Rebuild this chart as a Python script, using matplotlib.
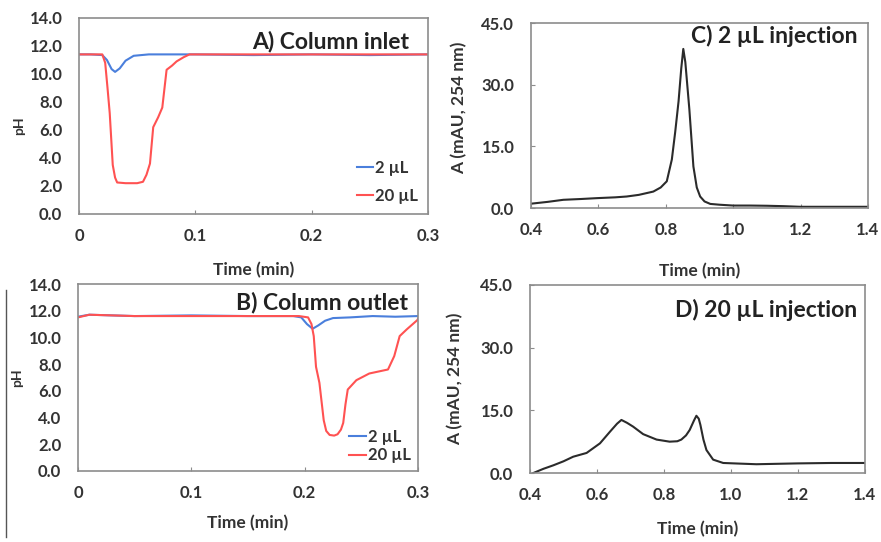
import matplotlib
matplotlib.use("Agg")
import matplotlib.pyplot as plt
from matplotlib.lines import Line2D

plt.rcParams['font.family'] = ['Lato', 'DejaVu Sans']
plt.rcParams['font.weight'] = 'bold'

# A) column inlet pH
inlet_t_2 = [0.0, 0.010, 0.020, 0.024, 0.028, 0.031, 0.035, 0.040, 0.047, 0.060, 0.100, 0.150, 0.200, 0.250, 0.300]
inlet_ph_2 = [11.4, 11.4, 11.35, 11.0, 10.35, 10.15, 10.4, 10.95, 11.3, 11.4, 11.4, 11.35, 11.4, 11.35, 11.4]
inlet_t_20 = [0.0, 0.010, 0.020, 0.0225, 0.0245, 0.0264, 0.029, 0.031, 0.0328, 0.040, 0.050, 0.055, 0.058, 0.061,
              0.0638, 0.068, 0.0716, 0.0753, 0.0800, 0.0839, 0.090, 0.095, 0.150, 0.200, 0.250, 0.300]
inlet_ph_20 = [11.4, 11.4, 11.4, 10.8, 9.0, 7.2, 3.5, 2.6, 2.25, 2.2, 2.2, 2.3, 2.8, 3.6,
               6.2, 6.9, 7.6, 10.3, 10.6, 10.9, 11.2, 11.4, 11.4, 11.4, 11.4, 11.4]

# B) column outlet pH
outlet_t_2 = [0.0, 0.010, 0.050, 0.100, 0.150, 0.190, 0.197, 0.202, 0.207, 0.212, 0.218, 0.225, 0.240, 0.260, 0.280, 0.300]
outlet_ph_2 = [11.55, 11.7, 11.6, 11.65, 11.6, 11.6, 11.5, 11.0, 10.65, 10.9, 11.25, 11.45, 11.5, 11.6, 11.55, 11.6]
outlet_t_20 = [0.0, 0.010, 0.050, 0.100, 0.150, 0.195, 0.203, 0.206, 0.208, 0.210, 0.213, 0.2168, 0.219, 0.222,
               0.226, 0.229, 0.232, 0.234, 0.236, 0.238, 0.2456, 0.257, 0.2735, 0.279, 0.2838, 0.290, 0.2994, 0.300]
outlet_ph_20 = [11.5, 11.7, 11.6, 11.6, 11.6, 11.6, 11.5, 11.0, 10.1, 7.8, 6.6, 3.8, 3.0, 2.7,
                2.65, 2.75, 3.1, 3.6, 5.0, 6.1, 6.8, 7.3, 7.6, 8.6, 10.1, 10.6, 11.3, 11.4]

# C) 2 uL injection, absorbance
c_t = [0.40, 0.45, 0.496, 0.55, 0.595, 0.65, 0.684, 0.72, 0.763, 0.785, 0.803, 0.818, 0.828, 0.838, 0.846, 0.852,
       0.858, 0.870, 0.882, 0.892, 0.902, 0.915, 0.932, 0.96, 1.0, 1.05, 1.1, 1.15, 1.2, 1.3, 1.4]
c_abs = [1.05, 1.5, 2.0, 2.2, 2.4, 2.6, 2.8, 3.2, 4.0, 5.0, 6.5, 11.8, 18.5, 26.0, 34.0, 38.7,
         35.5, 24.0, 10.1, 5.0, 2.8, 1.6, 1.0, 0.8, 0.6, 0.6, 0.55, 0.45, 0.3, 0.3, 0.3]

# D) 20 uL injection, absorbance
d_t = [0.41, 0.44, 0.47, 0.50, 0.529, 0.569, 0.609, 0.639, 0.660, 0.673, 0.690, 0.708, 0.738, 0.778, 0.817, 0.840,
       0.852, 0.866, 0.877, 0.890, 0.897, 0.904, 0.909, 0.918, 0.927, 0.947, 0.977, 1.026, 1.076, 1.2, 1.3, 1.4]
d_abs = [0.0, 1.0, 1.85, 2.8, 3.9, 4.8, 7.1, 9.9, 11.8, 12.7, 12.0, 11.1, 9.3, 8.0, 7.5, 7.6,
         8.0, 9.0, 10.3, 12.6, 13.7, 13.0, 11.5, 8.0, 5.5, 3.2, 2.4, 2.25, 2.1, 2.3, 2.4, 2.4]

BLUE = '#4a7fdc'
RED = '#ff5252'
TXT = '#333333'
EDGE = '#8c8c8c'

fig = plt.figure(figsize=(8.81, 5.42), dpi=100)


def style(ax, xlim, ylim, xticks, yticks, xfmt, ylabel, ylab_size, ylab_pos, xlab_pos, yticklen):
    ax.set_xlim(*xlim)
    ax.set_ylim(*ylim)
    ax.set_xticks(xticks)
    ax.set_xticklabels([xfmt(v) for v in xticks])
    ax.set_yticks(yticks)
    ax.set_yticklabels([f'{v:.1f}' for v in yticks])
    for s in ax.spines.values():
        s.set_color(EDGE)
        s.set_linewidth(1.2)
    ax.tick_params(axis='x', direction='in', length=3, color=EDGE, pad=10, labelsize=12, labelcolor=TXT)
    ax.tick_params(axis='y', direction='in', length=yticklen, color=EDGE, pad=12, labelsize=12, labelcolor=TXT)
    ax.set_ylabel(ylabel, fontsize=ylab_size, color=TXT, fontweight='bold')
    ax.yaxis.set_label_coords(*ylab_pos)
    ax.set_xlabel('Time (min)', fontsize=12.5, color=TXT, fontweight='bold')
    ax.xaxis.set_label_coords(*xlab_pos)


def t_fmt(v):
    return '0' if v == 0 else f'{v:g}'


def a_fmt(v):
    return f'{v:.1f}'


# Panel A
axA = fig.add_axes([0.0897, 0.6052, 0.396, 0.3616])
axA.plot(inlet_t_2, inlet_ph_2, color=BLUE, lw=1.5, label='2 µL')
axA.plot(inlet_t_20, inlet_ph_20, color=RED, lw=1.5, label='20 µL')
style(axA, (0, 0.3), (0, 14), [0, 0.1, 0.2, 0.3], [0, 2, 4, 6, 8, 10, 12, 14],
      t_fmt, 'pH', 10, (-0.155, 0.45), (0.5, -0.245), 0)
axA.text(0.945, 0.88, 'A) Column inlet', transform=axA.transAxes, ha='right', va='center',
         fontsize=16.5, fontweight='bold', color='#222222')
axA.legend(loc='lower right', frameon=False, fontsize=12, handlelength=1.0, handletextpad=0.1,
           borderaxespad=0.2, labelspacing=0.7, labelcolor=TXT)

# Panel B
axB = fig.add_axes([0.0885, 0.131, 0.386, 0.345])
axB.plot(outlet_t_2, outlet_ph_2, color=BLUE, lw=1.5, label='2 µL')
axB.plot(outlet_t_20, outlet_ph_20, color=RED, lw=1.5, label='20 µL')
style(axB, (0, 0.3), (0, 14), [0, 0.1, 0.2, 0.3], [0, 2, 4, 6, 8, 10, 12, 14],
      t_fmt, 'pH', 10, (-0.16, 0.5), (0.5, -0.235), 0)
axB.text(0.97, 0.90, 'B) Column outlet', transform=axB.transAxes, ha='right', va='center',
         fontsize=16.5, fontweight='bold', color='#222222')
axB.legend(loc='lower right', frameon=False, fontsize=12, handlelength=1.0, handletextpad=0.1,
           borderaxespad=0.05, labelspacing=0.15, labelcolor=TXT)

# Panel C
axC = fig.add_axes([0.6027, 0.6162, 0.3825, 0.3413])
axC.plot(c_t, c_abs, color='#2b2b2b', lw=1.5)
style(axC, (0.4, 1.4), (0, 45), [0.4, 0.6, 0.8, 1.0, 1.2, 1.4], [0, 15, 30, 45],
      a_fmt, 'A (mAU, 254 nm)', 12.5, (-0.19, 0.54), (0.5, -0.297), 3)
axC.text(0.97, 0.93, 'C) 2 µL injection', transform=axC.transAxes, ha='right', va='center',
         fontsize=16.5, fontweight='bold', color='#222222')

# Panel D
axD = fig.add_axes([0.6016, 0.1273, 0.380, 0.3469])
axD.plot(d_t, d_abs, color='#2b2b2b', lw=1.5)
style(axD, (0.4, 1.4), (0, 45), [0.4, 0.6, 0.8, 1.0, 1.2, 1.4], [0, 15, 30, 45],
      a_fmt, 'A (mAU, 254 nm)', 12.5, (-0.2, 0.5), (0.5, -0.255), 3)
axD.text(0.976, 0.867, 'D) 20 µL injection', transform=axD.transAxes, ha='right', va='center',
         fontsize=16.5, fontweight='bold', color='#222222')

# thin vertical rule at the left edge of the lower half
fig.add_artist(Line2D([6 / 881, 6 / 881], [1 - 290 / 542, 1 - 537 / 542], color='#555555', lw=1))

fig.savefig('out.png', dpi=100)
